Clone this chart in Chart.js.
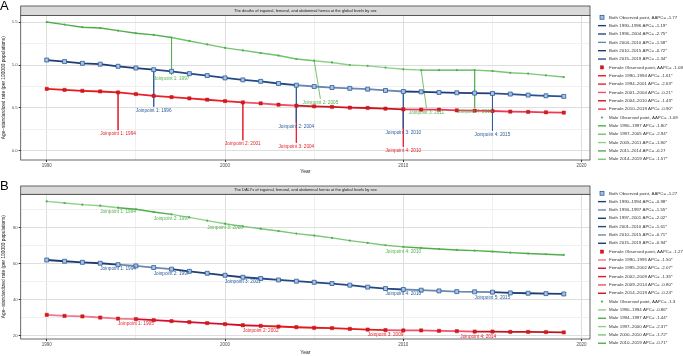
<!DOCTYPE html>
<html lang="en">
<head>
<meta charset="UTF-8">
<script src="https://cdn.jsdelivr.net/npm/chart.js"></script>
<title>Joinpoint - hernia by sex</title>
<style>
    body { margin: 0; background: #fff; }
    canvas { display: block; }
</style>
</head>
<body>
<canvas id="chartA" width="683" height="178"></canvas>
<canvas id="chartB" width="683" height="178"></canvas>
<script>
    var years = [1990, 1991, 1992, 1993, 1994, 1995, 1996, 1997, 1998, 1999,
        2000, 2001, 2002, 2003, 2004, 2005, 2006, 2007, 2008, 2009,
        2010, 2011, 2012, 2013, 2014, 2015, 2016, 2017, 2018, 2019];

    // A - deaths, age-standardized rate per 100000
    var titleA = 'The deaths of inguinal, femoral, and abdominal hernia at the global levels by sex';
    var deathsBoth = [1.058, 1.04, 1.02, 1.01, 0.985, 0.965, 0.946, 0.927, 0.90, 0.877,
        0.85, 0.827, 0.81, 0.785, 0.765, 0.75, 0.738, 0.728, 0.719, 0.704,
        0.692, 0.688, 0.681, 0.677, 0.673, 0.669, 0.662, 0.65, 0.642, 0.635];
    var deathsFemale = [0.723, 0.711, 0.70, 0.692, 0.681, 0.662, 0.642, 0.627, 0.612, 0.596,
        0.581, 0.565, 0.554, 0.538, 0.527, 0.519, 0.512, 0.504, 0.50, 0.492,
        0.485, 0.481, 0.481, 0.473, 0.469, 0.465, 0.458, 0.454, 0.45, 0.446];
    var deathsMale = [1.50, 1.47, 1.44, 1.43, 1.40, 1.37, 1.35, 1.32, 1.28, 1.24,
        1.20, 1.17, 1.14, 1.11, 1.07, 1.05, 1.03, 1.00, 0.99, 0.97,
        0.95, 0.94, 0.94, 0.94, 0.94, 0.93, 0.91, 0.90, 0.88, 0.86];
    var jpDeathsBoth = [1996, 2004, 2010, 2015];
    var jpDeathsFemale = [1994, 2001, 2004, 2010];
    var jpDeathsMale = [1997, 2005, 2011, 2014];
    var lblDeathsBothX = [1996, 2004, 2010, 2015];
    var lblDeathsBothY = [0.47, 0.285, 0.215, 0.19];
    var lblDeathsFemaleX = [1994, 2001, 2004, 2010];
    var lblDeathsFemaleY = [0.196, 0.08, 0.05, 0.004];
    var lblDeathsMaleX = [1997, 2005.35, 2011.3, 2014];
    var lblDeathsMaleY = [0.84, 0.56, 0.45, 0.455];
    var aapcDeaths = ['-1.77', '-1.08', '-1.09'];
    var apcDeathsBoth = ['-1.19*', '-2.75*', '-1.58*', '-0.72*', '-1.34*'];
    var apcDeathsFemale = ['-1.61*', '-2.63*', '-0.21*', '-1.43*', '-0.90*'];
    var apcDeathsMale = ['-1.80*', '-2.94*', '-1.80*', '-0.27', '-1.57*'];

    // B - DALYs, age-standardized rate per 100000
    var titleB = 'The DALYs of inguinal, femoral, and abdominal hernia at the global levels by sex';
    var dalysBoth = [62.0, 61.3, 60.7, 60.2, 59.4, 58.7, 57.8, 56.9, 55.7, 54.6,
        53.5, 52.4, 51.7, 50.9, 50.2, 49.6, 48.9, 48.0, 46.9, 46.1,
        45.6, 45.2, 44.8, 44.4, 44.3, 44.1, 43.7, 43.5, 43.3, 43.1];
    var dalysFemale = [31.5, 30.9, 30.6, 30.0, 29.4, 29.1, 28.5, 28.0, 27.4, 26.9,
        26.3, 25.7, 25.4, 25.0, 24.6, 24.3, 24.1, 23.7, 23.3, 23.0,
        22.8, 22.8, 22.6, 22.4, 22.2, 22.2, 22.0, 22.0, 21.9, 21.7];
    var dalysMale = [94.6, 93.7, 92.8, 92.2, 91.1, 90.2, 88.7, 87.4, 85.7, 83.9,
        82.2, 80.7, 79.4, 78.1, 76.7, 75.6, 74.3, 72.8, 71.5, 70.2,
        69.3, 68.7, 68.1, 67.6, 67.2, 66.7, 66.1, 65.6, 65.2, 64.8];
    var jpDalysBoth = [1994, 1997, 2001, 2010, 2015];
    var jpDalysFemale = [1995, 2002, 2009, 2014];
    var jpDalysMale = [1994, 1997, 2000, 2010];
    var lblDalysBothX = [1994, 1997, 2001, 2010, 2015];
    var lblDalysBothY = [57.4, 54.4, 50.2, 43.15, 41.3];
    var lblDalysFemaleX = [1995, 2002, 2009, 2014.2];
    var lblDalysFemaleY = [26.7, 22.6, 20.55, 19.6];
    var lblDalysMaleX = [1994, 1997, 2000, 2010];
    var lblDalysMaleY = [89.1, 85.0, 79.8, 66.85];
    var aapcDalys = ['-1.27', '-1.27', '-1.3'];
    var apcDalysBoth = ['-0.98*', '-1.55*', '-2.02*', '-1.61*', '-0.71*', '-0.94*'];
    var apcDalysFemale = ['-1.50*', '-2.07*', '-1.35*', '-0.80*', '-0.24*'];
    var apcDalysMale = ['-0.86*', '-1.44*', '-2.37*', '-1.72*', '-0.71*'];

    // styles
    var FONT = '"Liberation Sans", Arial, sans-serif';
    Chart.defaults.font.family = FONT;
    var blueTxt = '#2a5a9a', redTxt = '#e4202a', greenTxt = '#55b04f';
    var ptBoth = { style: 'rect', r: 2.8, fill: '#a9c2e2', edge: '#2a5a9a', bw: 0.8 };
    var ptFemale = { style: 'rect', r: 2.3, fill: '#d7191c', edge: '#c0141a', bw: 0.5 };
    var ptMale = { style: 'circle', r: 1.1, fill: '#4caf50', edge: '#4caf50', bw: 0 };
    var shadesBothA = ['#1d3e72', '#234a85', '#6a88b0', '#1d3e72', '#2b5290'];
    var shadesFemaleA = ['#e41a1c', '#e8202a', '#f0506a', '#cc1420', '#ec3a55'];
    var shadesMaleA = ['#4fae4a', '#72c36c', '#8fd18a', '#4fae4a', '#7cc576'];
    var shadesBothB = ['#1d3e72', '#6a88b0', '#1d3e72', '#234a85', '#6a88b0', '#1d3e72'];
    var shadesFemaleB = ['#f07890', '#d0102e', '#e41a1c', '#f0506a', '#c0141f'];
    var shadesMaleB = ['#8fd18a', '#4fae4a', '#8fd18a', '#7cc576', '#4fae4a'];

    function segOf(x, jps) {
        var n = 0;
        jps.forEach(function (j) { if (x >= j) n++; });
        return n;
    }

    function series(vals, jps, shades, pt, lw) {
        return {
            data: years.map(function (x, i) { return { x: x, y: vals[i] }; }),
            borderWidth: lw,
            borderColor: shades[0],
            segment: { borderColor: function (c) { return shades[segOf(c.p0.parsed.x, jps)]; } },
            pointStyle: pt.style, pointRadius: pt.r,
            pointBackgroundColor: pt.fill, pointBorderColor: pt.edge, pointBorderWidth: pt.bw,
            tension: 0, order: 1
        };
    }

    function connectors(vals, jps, lx, ly, color) {
        return jps.map(function (jp, i) {
            return {
                data: [{ x: jp, y: vals[years.indexOf(jp)] }, { x: lx[i], y: ly[i] + 0.045 }],
                borderColor: color, borderWidth: 0.8, pointRadius: 0, order: 5
            };
        });
    }

    function legendItems(label, aapc, jps, apcs, shades, pt) {
        var items = [{ pt: pt, text: label + ' Observed point, AAPC= ' + aapc }];
        var b = [years[0]].concat(jps).concat([years[years.length - 1]]);
        for (var i = 0; i < apcs.length; i++) {
            items.push({ line: shades[i], text: label + ' ' + b[i] + '–' + b[i + 1] + ' APC= ' + apcs[i] });
        }
        return items;
    }

    var decorCfg = {
        chartA: {
            tag: 'A', tagY: 10, title: titleA, stripTop: 6, legendTop: 17.3, legendStep: 8.35,
            legend: [].concat(
                legendItems('Both', aapcDeaths[0], jpDeathsBoth, apcDeathsBoth, shadesBothA, ptBoth),
                legendItems('Female', aapcDeaths[1], jpDeathsFemale, apcDeathsFemale, shadesFemaleA, ptFemale),
                legendItems('Male', aapcDeaths[2], jpDeathsMale, apcDeathsMale, shadesMaleA, ptMale)),
            labels: [
                { x: lblDeathsMaleX, y: lblDeathsMaleY, years: jpDeathsMale, color: greenTxt },
                { x: lblDeathsBothX, y: lblDeathsBothY, years: jpDeathsBoth, color: blueTxt },
                { x: lblDeathsFemaleX, y: lblDeathsFemaleY, years: jpDeathsFemale, color: redTxt }
            ]
        },
        chartB: {
            tag: 'B', tagY: 12, title: titleB, stripTop: 8, legendTop: 15.3, legendStep: 8.33,
            legend: [].concat(
                legendItems('Both', aapcDalys[0], jpDalysBoth, apcDalysBoth, shadesBothB, ptBoth),
                legendItems('Female', aapcDalys[1], jpDalysFemale, apcDalysFemale, shadesFemaleB, ptFemale),
                legendItems('Male', aapcDalys[2], jpDalysMale, apcDalysMale, shadesMaleB, ptMale)),
            labels: [
                { x: lblDalysMaleX, y: lblDalysMaleY, years: jpDalysMale, color: greenTxt },
                { x: lblDalysBothX, y: lblDalysBothY, years: jpDalysBoth, color: blueTxt },
                { x: lblDalysFemaleX, y: lblDalysFemaleY, years: jpDalysFemale, color: redTxt }
            ]
        }
    };

    var decor = {
        id: 'decor',
        afterDatasetsDraw: function (chart) {
            var o = decorCfg[chart.canvas.id], ctx = chart.ctx;
            var xs = chart.scales.x, ys = chart.scales.y;
            ctx.save();
            ctx.font = '4.7px ' + FONT;
            ctx.textAlign = 'center';
            ctx.textBaseline = 'middle';
            o.labels.forEach(function (g) {
                ctx.fillStyle = g.color;
                g.x.forEach(function (x, i) {
                    ctx.fillText('Joinpoint ' + (i + 1) + ': ' + g.years[i],
                        xs.getPixelForValue(x), ys.getPixelForValue(g.y[i]));
                });
            });
            ctx.restore();
        },
        afterDraw: function (chart) {
            var o = decorCfg[chart.canvas.id], ctx = chart.ctx, a = chart.chartArea;
            ctx.save();
            ctx.strokeStyle = '#444';
            ctx.lineWidth = 0.8;
            ctx.strokeRect(a.left, a.top, a.right - a.left, a.bottom - a.top);
            // strip with the panel title
            ctx.fillStyle = '#d9d9d9';
            ctx.fillRect(a.left, o.stripTop, a.right - a.left, a.top - o.stripTop);
            ctx.strokeRect(a.left, o.stripTop, a.right - a.left, a.top - o.stripTop);
            ctx.fillStyle = '#1a1a1a';
            ctx.font = '4px ' + FONT;
            ctx.textAlign = 'center';
            ctx.textBaseline = 'middle';
            ctx.fillText(o.title, (a.left + a.right) / 2, (o.stripTop + a.top) / 2);
            // panel tag
            ctx.font = '13px ' + FONT;
            ctx.textAlign = 'left';
            ctx.textBaseline = 'alphabetic';
            ctx.fillStyle = '#000';
            ctx.fillText(o.tag, 0, o.tagY);
            // legend
            ctx.font = '4.4px ' + FONT;
            ctx.textBaseline = 'middle';
            o.legend.forEach(function (it, i) {
                var y = o.legendTop + i * o.legendStep;
                if (it.pt) {
                    ctx.fillStyle = it.pt.fill;
                    ctx.strokeStyle = it.pt.edge;
                    ctx.lineWidth = it.pt.bw || 0.1;
                    if (it.pt.style === 'rect') {
                        var s = it.pt.r * 0.7;
                        ctx.fillRect(602 - s, y - s, 2 * s, 2 * s);
                        if (it.pt.bw) ctx.strokeRect(602 - s, y - s, 2 * s, 2 * s);
                    } else {
                        ctx.beginPath();
                        ctx.arc(602, y, it.pt.r, 0, Math.PI * 2);
                        ctx.fill();
                    }
                } else {
                    ctx.strokeStyle = it.line;
                    ctx.lineWidth = 1.4;
                    ctx.beginPath();
                    ctx.moveTo(598, y);
                    ctx.lineTo(606, y);
                    ctx.stroke();
                }
                ctx.fillStyle = '#333';
                ctx.fillText(it.text, 609, y);
            });
            ctx.restore();
        }
    };

    function gridColor(step) {
        return function (c) {
            if (!c.tick) return '#ebebeb';
            var v = c.tick.value / step;
            return Math.abs(v - Math.round(v)) < 1e-6 ? '#dedede' : '#f0f0f0';
        };
    }
    function tickColor(step) {
        return function (c) {
            if (!c.tick) return 'rgba(0,0,0,0)';
            var v = c.tick.value / step;
            return Math.abs(v - Math.round(v)) < 1e-6 ? '#333' : 'rgba(0,0,0,0)';
        };
    }

    function makeChart(id, datasets, p) {
        return new Chart(document.getElementById(id), {
            type: 'line',
            data: { datasets: datasets },
            options: {
                responsive: false,
                animation: false,
                layout: { padding: { top: p.plotTop, right: 93, left: 0, bottom: 0 } },
                plugins: { legend: { display: false }, tooltip: { enabled: false } },
                scales: {
                    x: {
                        type: 'linear', min: 1988.54, max: 2020.47,
                        afterFit: function (s) { s.height = p.xAxisH; },
                        border: { display: false },
                        grid: { color: gridColor(10), lineWidth: 1, tickLength: 2, tickColor: tickColor(10) },
                        ticks: {
                            stepSize: 5, includeBounds: false, autoSkip: false, maxRotation: 0,
                            font: { size: 4.5 }, color: '#4d4d4d', padding: 1.5,
                            callback: function (v) { return v % 10 === 0 ? String(v) : ''; }
                        },
                        title: { display: true, text: 'Year', font: { size: 5 }, color: '#1a1a1a', padding: { top: 0, bottom: p.yearPad } }
                    },
                    y: {
                        min: p.yMin, max: p.yMax,
                        afterFit: function (s) { s.width = 20.7; },
                        border: { display: false },
                        grid: { color: gridColor(p.major), lineWidth: 1, tickLength: 2, tickColor: tickColor(p.major) },
                        ticks: {
                            stepSize: p.minor, includeBounds: false, autoSkip: false,
                            font: { size: 4.3 }, color: '#4d4d4d', padding: 1,
                            callback: function (v) {
                                var q = v / p.major;
                                return Math.abs(q - Math.round(q)) < 1e-6 ? v.toFixed(p.dec) : '';
                            }
                        },
                        title: {
                            display: true, text: 'Age−standardized rate (per 100000 populations)',
                            font: { size: 4.8 }, color: '#1a1a1a', padding: { top: 1, bottom: 0 }
                        }
                    }
                }
            },
            plugins: [decor]
        });
    }

    var dsA = [
        series(deathsMale, jpDeathsMale, shadesMaleA, ptMale, 1.4),
        series(deathsBoth, jpDeathsBoth, shadesBothA, ptBoth, 1.8),
        series(deathsFemale, jpDeathsFemale, shadesFemaleA, ptFemale, 1.8)
    ].concat(
        connectors(deathsMale, jpDeathsMale, lblDeathsMaleX, lblDeathsMaleY, greenTxt),
        connectors(deathsBoth, jpDeathsBoth, lblDeathsBothX, lblDeathsBothY, blueTxt),
        connectors(deathsFemale, jpDeathsFemale, lblDeathsFemaleX, lblDeathsFemaleY, redTxt)
    );
    var dsB = [
        series(dalysMale, jpDalysMale, shadesMaleB, ptMale, 1.4),
        series(dalysBoth, jpDalysBoth, shadesBothB, ptBoth, 1.8),
        series(dalysFemale, jpDalysFemale, shadesFemaleB, ptFemale, 1.8)
    ];

    makeChart('chartA', dsA, { plotTop: 15.5, xAxisH: 18, yearPad: 3.3, yMin: -0.105, yMax: 1.576, major: 0.5, minor: 0.25, dec: 1 });
    makeChart('chartB', dsB, { plotTop: 16.3, xAxisH: 17, yearPad: 0, yMin: 18.05, yMax: 98.55, major: 20, minor: 10, dec: 0 });
</script>
</body>
</html>
